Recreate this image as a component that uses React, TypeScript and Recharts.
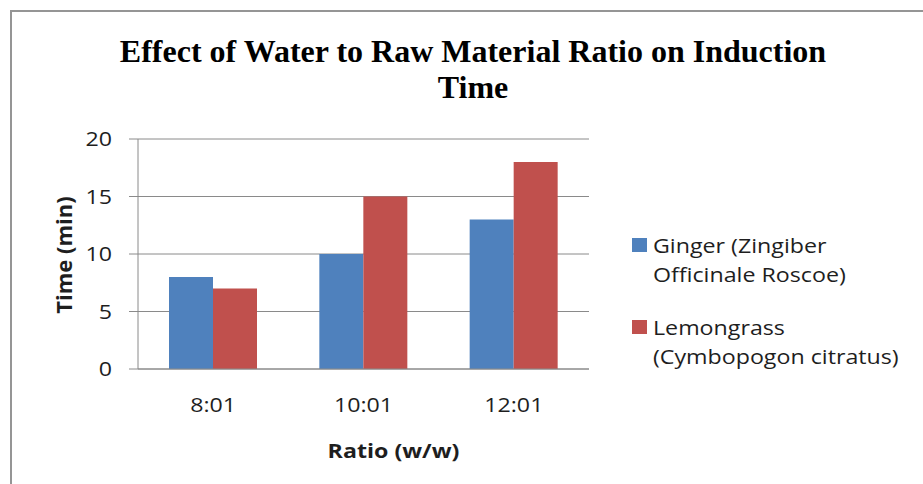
import React from "react";
import { BarChart, Bar, XAxis, YAxis, CartesianGrid, Legend, Label } from "recharts";

// Categories and series values
const ratios = ["8:01", "10:01", "12:01"];
const gingerTimes = [8, 10, 13];
const lemongrassTimes = [7, 15, 18];
const timeTicks = [0, 5, 10, 15, 20];

// Text
const titleLines = ["Effect of Water to Raw Material Ratio on Induction", "Time"];
const xTitle = "Ratio (w/w)";
const yTitle = "Time (min)";
const gingerName = "Ginger (Zingiber Officinale Roscoe)";
const lemongrassName = "Lemongrass (Cymbopogon citratus)";
const gingerLegendLines = ["Ginger (Zingiber", "Officinale Roscoe)"];
const lemongrassLegendLines = ["Lemongrass", "(Cymbopogon citratus)"];

const rows = ratios.map((ratio, i) => ({
  ratio,
  ginger: gingerTimes[i],
  lemongrass: lemongrassTimes[i],
}));

// Styling
const W = 923;
const H = 484;
const BLUE = "#4F81BD";
const RED = "#C0504D";
const GRID = "#8a8a8a";
const TEXT = "#1e1e1e";
const SANS = "'Open Sans', 'DejaVu Sans', sans-serif";
const SERIF = "'Liberation Serif', 'Times New Roman', serif";
const STRETCH = 1.16;

const legendLinesByKey: Record<string, string[]> = {
  ginger: gingerLegendLines,
  lemongrass: lemongrassLegendLines,
};

const YTick = (props: any) => {
  const { x, y, payload } = props;
  return (
    <g transform={`translate(${x},${y}) scale(${STRETCH},1)`}>
      <text x={0} y={0} dy="0.36em" textAnchor="end" fontFamily={SANS} fontSize={20} fill={TEXT}>
        {payload.value}
      </text>
    </g>
  );
};

const XTick = (props: any) => {
  const { x, y, payload } = props;
  return (
    <g transform={`translate(${x},${y + 33}) scale(${STRETCH},1)`}>
      <text x={0} y={0} textAnchor="middle" fontFamily={SANS} fontSize={20} fill={TEXT}>
        {payload.value}
      </text>
    </g>
  );
};

const XTitle = (props: any) => {
  const { viewBox } = props;
  const cx = viewBox.x + viewBox.width / 2 + 30;
  const by = viewBox.y + 89;
  return (
    <g transform={`translate(${cx},${by}) scale(${STRETCH},1)`}>
      <text x={0} y={0} textAnchor="middle" fontFamily={SANS} fontWeight="bold" fontSize={20} fill={TEXT}>
        {xTitle}
      </text>
    </g>
  );
};

const YTitle = (props: any) => {
  const { viewBox } = props;
  const cy = viewBox.y + viewBox.height / 2 + 1;
  return (
    <g transform={`translate(71.5,${cy}) rotate(-90)`}>
      <text x={0} y={0} textAnchor="middle" fontFamily={SANS} fontWeight="bold" fontSize={22} fill={TEXT}>
        {yTitle}
      </text>
    </g>
  );
};

const LegendContent = (props: any) => {
  const { payload } = props;
  return (
    <div style={{ fontFamily: SANS, fontSize: 20, color: TEXT }}>
      {(payload || []).map((entry: any, i: number) => {
        const lines = legendLinesByKey[entry.dataKey] || [entry.value];
        return (
          <div key={i} style={{ display: "flex", alignItems: "flex-start", marginTop: i === 0 ? 0 : 24 }}>
            <span
              style={{
                display: "inline-block",
                width: 15,
                height: 14,
                marginTop: 7,
                background: entry.color,
                flex: "none",
              }}
            />
            <div style={{ marginLeft: 6, transform: `scaleX(${STRETCH})`, transformOrigin: "left center" }}>
              {lines.map((line, j) => (
                <div key={j} style={{ lineHeight: "29px", whiteSpace: "nowrap" }}>
                  {line}
                </div>
              ))}
            </div>
          </div>
        );
      })}
    </div>
  );
};

export default function App() {
  return (
    <div style={{ position: "absolute", left: 0, top: 0, width: W, height: H, overflow: "hidden", background: "#fff" }}>
      <div
        style={{
          position: "absolute",
          left: 10,
          top: 10,
          width: W,
          height: H,
          borderLeft: "2px solid #959595",
          borderTop: "2px solid #959595",
        }}
      />
      <div
        style={{
          position: "absolute",
          left: 23,
          top: 33,
          width: 900,
          textAlign: "center",
          fontFamily: SERIF,
          fontWeight: "bold",
          fontSize: 32,
          lineHeight: "36px",
          color: "#000",
        }}
      >
        {titleLines.map((line, i) => (
          <div key={i}>{line}</div>
        ))}
      </div>
      <div style={{ position: "absolute", left: 0, top: 0 }}>
        <BarChart
          width={W}
          height={H}
          data={rows}
          margin={{ top: 139, right: 334, bottom: 55, left: 58 }}
          barGap={0}
        >
          <CartesianGrid horizontal vertical={false} stroke={GRID} strokeWidth={1} />
          <XAxis
            dataKey="ratio"
            height={60}
            tickLine={false}
            tickSize={0}
            tickMargin={10}
            axisLine={{ stroke: GRID }}
            tick={<XTick />}
            interval={0}
          >
            <Label content={<XTitle />} />
          </XAxis>
          <YAxis
            width={80}
            domain={[0, 20]}
            ticks={timeTicks}
            tickSize={9}
            tickMargin={17}
            tickLine={{ stroke: GRID }}
            axisLine={{ stroke: GRID }}
            tick={<YTick />}
          >
            <Label content={<YTitle />} />
          </YAxis>
          <Legend
            layout="vertical"
            align="center"
            verticalAlign="middle"
            wrapperStyle={{ left: 632, top: 231, width: 291 }}
            content={<LegendContent />}
          />
          <Bar dataKey="ginger" name={gingerName} fill={BLUE} barSize={44} isAnimationActive={false} />
          <Bar dataKey="lemongrass" name={lemongrassName} fill={RED} barSize={44} isAnimationActive={false} />
        </BarChart>
      </div>
    </div>
  );
}
